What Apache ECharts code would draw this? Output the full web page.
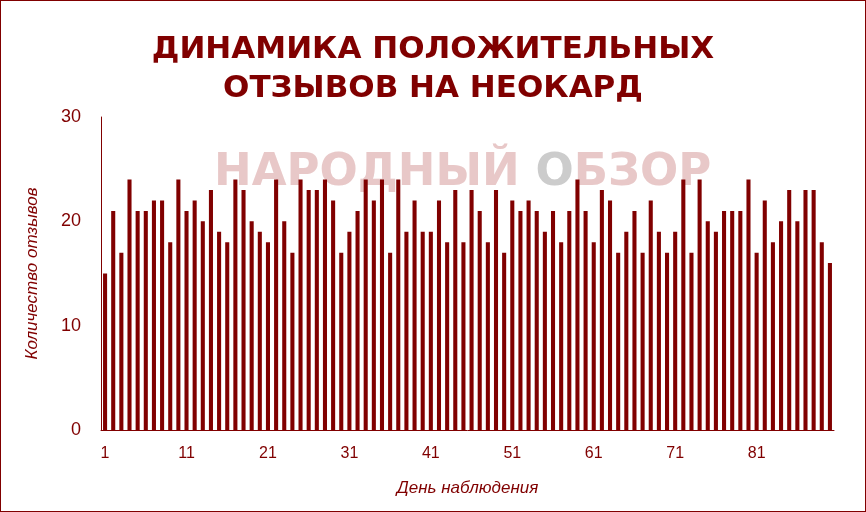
<!DOCTYPE html>
<html>
<head>
<meta charset="utf-8">
<script src="https://cdn.jsdelivr.net/npm/echarts@6/dist/echarts.min.js"></script>
<style>
html,body{margin:0;padding:0;background:#fff;}
#c{width:866px;height:512px;box-sizing:border-box;border:1px solid #800000;}
</style>
</head>
<body>
<div id="c"></div>
<script>
const titleLines = ['ДИНАМИКА ПОЛОЖИТЕЛЬНЫХ', 'ОТЗЫВОВ НА НЕОКАРД'];
const yAxisName = 'Количество отзывов';
const xAxisName = 'День наблюдения';
const days = [];
for (let i = 1; i <= 90; i++) days.push(String(i));
const positiveReviews = [
  15,21,17,24,21,21,22,22,18,24,
  21,22,20,23,19,18,24,23,20,19,
  18,24,20,17,24,23,23,24,22,17,
  19,21,24,22,24,17,24,19,22,19,
  19,22,18,23,18,23,21,18,23,17,
  22,21,22,21,19,21,18,21,24,21,
  18,23,22,17,19,21,17,22,19,17,
  19,24,17,24,20,19,21,21,21,24,
  17,22,18,20,23,20,23,23,18,16
];
const yTicks = [0, 10, 20, 30];

const RED = '#800000';
const chart = echarts.init(document.getElementById('c'), null, {renderer: 'canvas'});
chart.setOption({
  backgroundColor: '#fff',
  animation: false,
  title: {
    text: titleLines.join('\n'),
    left: 'center',
    top: 24,
    textStyle: {
      fontFamily: 'DejaVu Sans',
      fontWeight: 'bold',
      fontSize: 31,
      lineHeight: 39,
      color: RED
    }
  },
  graphic: [{
    type: 'text',
    left: 213,
    top: 150,
    z: -1,
    silent: true,
    style: {
      text: '{a|НАРОДНЫЙ }{o|О}{a|БЗОР}',
      rich: {
        a: {fontFamily: 'DejaVu Sans', fontWeight: 'bold', fontSize: 45, fill: '#e8c8c8'},
        o: {fontFamily: 'DejaVu Sans', fontWeight: 'bold', fontSize: 45, fill: '#cccccc'}
      }
    }
  }],
  grid: {left: 100, right: 31, top: 116, bottom: 81, containLabel: false},
  xAxis: {
    type: 'category',
    data: days,
    name: xAxisName,
    nameLocation: 'middle',
    nameGap: 50,
    nameTextStyle: {fontFamily: 'Liberation Sans Narrow, Liberation Sans', fontStyle: 'italic', fontSize: 17, color: RED},
    axisLine: {show: true, lineStyle: {color: RED, width: 1}},
    axisTick: {show: false},
    axisLabel: {
      interval: 9,
      color: RED,
      fontSize: 16,
      fontFamily: 'Liberation Sans Narrow, Liberation Sans',
      margin: 16
    }
  },
  yAxis: {
    type: 'value',
    min: 0,
    max: 30,
    interval: 10,
    name: yAxisName,
    nameLocation: 'middle',
    nameGap: 60,
    nameRotate: 90,
    nameTextStyle: {fontFamily: 'Liberation Sans Narrow, Liberation Sans', fontStyle: 'italic', fontSize: 17, color: RED},
    axisLine: {show: true, lineStyle: {color: RED, width: 1}},
    axisTick: {show: false},
    splitLine: {show: false},
    axisLabel: {
      color: RED,
      fontSize: 18,
      fontFamily: 'Liberation Sans Narrow, Liberation Sans',
      margin: 20,
      customValues: yTicks
    }
  },
  series: [{
    type: 'bar',
    data: positiveReviews,
    barCategoryGap: '50%',
    itemStyle: {color: RED},
    z: 2
  }]
});
</script>
</body>
</html>
